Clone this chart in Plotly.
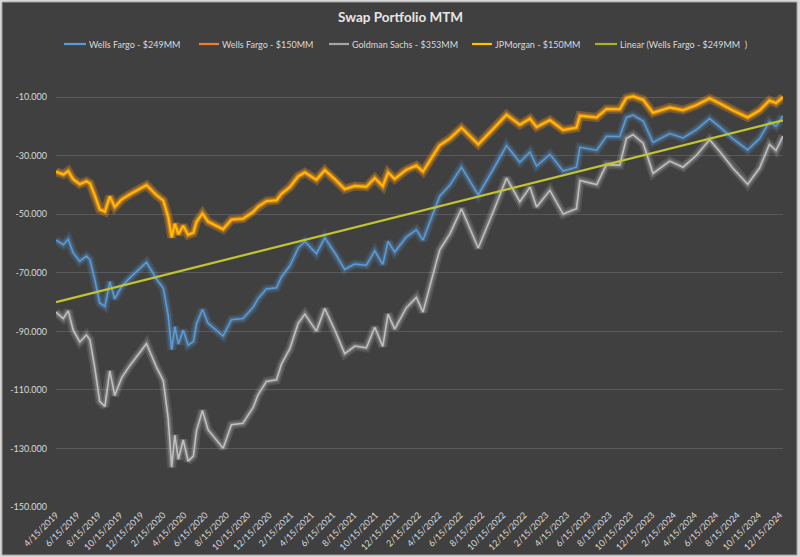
import numpy as np
import pandas as pd
import plotly.graph_objects as go

# ---------------- data (values in thousands) ----------------
dates = [
    "2019-04-15", "2019-05-06", "2019-05-20", "2019-06-03", "2019-06-22", "2019-07-11",
    "2019-07-21", "2019-08-04", "2019-08-18", "2019-09-02", "2019-09-16", "2019-09-30",
    "2019-10-20", "2019-11-12", "2019-12-30", "2020-01-28", "2020-02-16", "2020-03-01",
    "2020-03-11", "2020-03-20", "2020-03-30", "2020-04-13", "2020-04-27", "2020-05-12",
    "2020-05-21", "2020-06-07", "2020-06-23", "2020-08-05", "2020-08-29", "2020-10-01",
    "2020-10-30", "2020-11-13", "2020-12-07", "2021-01-05", "2021-01-19", "2021-02-12",
    "2021-03-08", "2021-03-27", "2021-04-29", "2021-05-23", "2021-06-21", "2021-07-19",
    "2021-08-17", "2021-09-19", "2021-10-13", "2021-11-05", "2021-11-20", "2021-12-09",
    "2022-01-11", "2022-02-09", "2022-02-28", "2022-03-24", "2022-04-08", "2022-04-17",
    "2022-05-16", "2022-06-18", "2022-08-05", "2022-09-17", "2022-10-25", "2022-12-02",
    "2022-12-31", "2023-01-19", "2023-02-26", "2023-04-05", "2023-05-13", "2023-05-23",
    "2023-07-10", "2023-08-07", "2023-09-14", "2023-10-03", "2023-10-22", "2023-11-20",
    "2023-12-18", "2024-02-04", "2024-03-13", "2024-04-20", "2024-05-28", "2024-06-26",
    "2024-08-02", "2024-09-14", "2024-10-18", "2024-11-15", "2024-12-04", "2024-12-24",
]

wells_fargo_249 = [
    -58.8, -60.4, -58.5, -63.1, -66.0, -64.3, -65.5, -72.3, -80.3, -81.5, -73.0, -78.9,
    -74.6, -71.7, -66.4, -72.2, -75.3, -84.5, -96.2, -88.4, -94.3, -89.6, -94.7, -93.5,
    -87.4, -82.5, -87.2, -91.6, -86.0, -85.6, -81.8, -78.8, -75.5, -75.1, -71.4, -67.6,
    -61.5, -59.3, -63.4, -58.0, -63.2, -68.8, -67.0, -67.4, -62.5, -67.1, -59.3, -62.9,
    -57.8, -55.3, -58.8, -50.8, -46.5, -43.8, -40.0, -33.9, -43.4, -34.6, -26.5, -32.2,
    -28.7, -33.5, -29.5, -35.2, -33.9, -27.1, -28.1, -23.3, -23.4, -16.9, -16.1, -18.1,
    -25.4, -22.4, -23.9, -21.1, -17.3, -20.1, -24.1, -28.0, -24.1, -18.4, -19.9, -16.4,
]

wells_fargo_150 = [
    -35.4, -36.4, -35.2, -38.0, -39.7, -38.7, -39.4, -43.5, -48.3, -49.1, -43.9, -47.5,
    -44.9, -43.2, -40.0, -43.5, -45.3, -50.9, -57.9, -53.2, -56.8, -53.9, -57.0, -56.3,
    -52.6, -49.7, -52.5, -55.1, -51.8, -51.5, -49.2, -47.4, -45.5, -45.2, -43.0, -40.7,
    -37.0, -35.7, -38.2, -34.9, -38.0, -41.4, -40.3, -40.6, -37.6, -40.4, -35.7, -37.9,
    -34.8, -33.3, -35.4, -30.6, -28.0, -26.4, -24.1, -20.4, -26.1, -20.8, -16.0, -19.4,
    -17.3, -20.2, -17.8, -21.2, -20.4, -16.3, -16.9, -14.0, -14.1, -10.2, -9.7, -10.9,
    -15.3, -13.5, -14.4, -12.7, -10.4, -12.1, -14.5, -16.9, -14.5, -11.1, -12.0, -9.9,
]

goldman_353 = [
    -83.4, -85.6, -83.0, -89.5, -93.6, -91.2, -92.9, -102.5, -113.9, -115.6, -103.5, -111.9,
    -105.8, -101.7, -94.2, -102.4, -106.8, -119.8, -136.4, -125.4, -133.7, -127.1, -134.3, -132.6,
    -123.9, -117.0, -123.6, -129.9, -121.9, -121.4, -116.0, -111.7, -107.1, -106.5, -101.2, -95.9,
    -87.2, -84.1, -89.9, -82.2, -89.6, -97.6, -95.0, -95.6, -88.6, -95.1, -84.1, -89.2,
    -82.0, -78.4, -83.4, -72.0, -65.9, -62.1, -56.7, -48.1, -61.5, -49.1, -37.6, -45.7,
    -40.7, -47.5, -41.8, -49.9, -48.1, -38.4, -39.8, -33.0, -33.2, -24.0, -22.8, -25.7,
    -36.0, -31.8, -33.9, -29.9, -24.5, -28.5, -34.2, -39.7, -34.2, -26.1, -28.2, -23.3,
]

jpmorgan_150 = [
    -35.4, -36.4, -35.2, -38.0, -39.7, -38.7, -39.4, -43.5, -48.3, -49.1, -43.9, -47.5,
    -44.9, -43.2, -40.0, -43.5, -45.3, -50.9, -57.9, -53.2, -56.8, -53.9, -57.0, -56.3,
    -52.6, -49.7, -52.5, -55.1, -51.8, -51.5, -49.2, -47.4, -45.5, -45.2, -43.0, -40.7,
    -37.0, -35.7, -38.2, -34.9, -38.0, -41.4, -40.3, -40.6, -37.6, -40.4, -35.7, -37.9,
    -34.8, -33.3, -35.4, -30.6, -28.0, -26.4, -24.1, -20.4, -26.1, -20.8, -16.0, -19.4,
    -17.3, -20.2, -17.8, -21.2, -20.4, -16.3, -16.9, -14.0, -14.1, -10.2, -9.7, -10.9,
    -15.3, -13.5, -14.4, -12.7, -10.4, -12.1, -14.5, -16.9, -14.5, -11.1, -12.0, -9.9,
]

# linear trendline of Wells Fargo $249MM, endpoints
trend_dates = ["2019-04-15", "2024-12-24"]
trend_values = [-80.0, -17.9]

series_names = ["Wells Fargo - $249MM", "Wells Fargo - $150MM",
                "Goldman Sachs - $353MM", "JPMorgan - $150MM"]
trend_name = "Linear (Wells Fargo - $249MM  )"

y_tick_values = [-150, -130, -110, -90, -70, -50, -30, -10]
y_tick_labels = ["-150.000", "-130.000", "-110.000", "-90.000",
                 "-70.000", "-50.000", "-30.000", "-10.000"]

x_tick_labels = [
    "4/15/2019", "6/15/2019", "8/15/2019", "10/15/2019", "12/15/2019",
    "2/15/2020", "4/15/2020", "6/15/2020", "8/15/2020", "10/15/2020", "12/15/2020",
    "2/15/2021", "4/15/2021", "6/15/2021", "8/15/2021", "10/15/2021", "12/15/2021",
    "2/15/2022", "4/15/2022", "6/15/2022", "8/15/2022", "10/15/2022", "12/15/2022",
    "2/15/2023", "4/15/2023", "6/15/2023", "8/15/2023", "10/15/2023", "12/15/2023",
    "2/15/2024", "4/15/2024", "6/15/2024", "8/15/2024", "10/15/2024", "12/15/2024",
]

# ---------------- styling ----------------
FONT = "Lato"
TXT = "#d9d9d9"
BG = "#404040"
GRID = "#5a5a5a"
C_BLUE = "#5b9bd5"
C_ORANGE = "#ed7d31"
C_GRAY = "#c0c0c0"
C_YELLOW = "#ffc000"
C_TREND = "#c3c52d"
C_TREND_LEG = "#a8b41e"

# plot area in pixels (figure 800x557)
W, H = 800, 557
L, R, T, B = 56, 17, 68, 50
PW, PH = W - L - R, H - T - B


def px_x(px):
    return (px - L) / PW


def px_y(py):
    return (H - B - py) / PH


x = pd.to_datetime(dates)

fig = go.Figure()


def add_series(vals, color, glow, width=1.6):
    fig.add_trace(go.Scatter(x=x, y=vals, mode="lines",
                             line=dict(color=glow, width=9),
                             opacity=0.16, hoverinfo="skip", showlegend=False))
    fig.add_trace(go.Scatter(x=x, y=vals, mode="lines",
                             line=dict(color=glow, width=5),
                             opacity=0.28, hoverinfo="skip", showlegend=False))
    fig.add_trace(go.Scatter(x=x, y=vals, mode="lines",
                             line=dict(color=color, width=width),
                             showlegend=False))


add_series(wells_fargo_249, C_BLUE, C_BLUE)
add_series(wells_fargo_150, C_ORANGE, C_ORANGE, width=2.6)
add_series(goldman_353, C_GRAY, "#bfbfbf")
add_series(jpmorgan_150, C_YELLOW, "#ffb000", width=1.5)

fig.add_trace(go.Scatter(x=pd.to_datetime(trend_dates), y=trend_values, mode="lines",
                         line=dict(color=C_TREND, width=2.2),
                         showlegend=False, name=trend_name))

# ---------------- frame ----------------
shapes = [
    dict(type="rect", xref="paper", yref="paper", layer="below",
         x0=px_x(2), x1=px_x(797), y0=px_y(555), y1=px_y(2),
         fillcolor=BG, line=dict(color="#a0a0a0", width=1)),
]

# ---------------- manual legend ----------------
legend_colors = [C_BLUE, C_ORANGE, "#a5a5a5", C_YELLOW, C_TREND_LEG]
legend_names = series_names + [trend_name]
legend_line_x = [(64, 86), (199, 219), (329, 349), (472, 492), (595, 617)]
legend_y = 44
annotations = []
for (x0, x1), col, nm in zip(legend_line_x, legend_colors, legend_names):
    shapes.append(dict(type="line", xref="paper", yref="paper",
                       x0=px_x(x0), x1=px_x(x1), y0=px_y(legend_y), y1=px_y(legend_y),
                       line=dict(color=col, width=2.2)))
    annotations.append(dict(text=nm, xref="paper", yref="paper",
                            x=px_x(x1 + 1), y=px_y(legend_y), xanchor="left",
                            yanchor="middle", showarrow=False,
                            font=dict(family=FONT, size=9, color=TXT)))

annotations.append(dict(text="<b>Swap Portfolio MTM</b>", xref="paper", yref="paper",
                        x=px_x(400), y=px_y(17), xanchor="center", yanchor="middle",
                        showarrow=False, font=dict(family=FONT, size=13.5, color="#e6e6e6")))

fig.update_layout(
    width=W, height=H,
    margin=dict(l=L, r=R, t=T, b=B, autoexpand=False),
    paper_bgcolor="#d9d9d9",
    plot_bgcolor=BG,
    shapes=shapes,
    annotations=annotations,
    showlegend=False,
    font=dict(family=FONT, color=TXT),
)

fig.update_xaxes(
    type="date",
    range=[x[0], x[-1]],
    tickvals=pd.to_datetime(x_tick_labels, format="%m/%d/%Y"),
    ticktext=x_tick_labels,
    tickangle=-45,
    tickfont=dict(family=FONT, size=9, color=TXT),
    showgrid=False, zeroline=False, showline=False, ticks="",
)

fig.update_yaxes(
    range=[-150, 0],
    tickvals=y_tick_values,
    ticktext=y_tick_labels,
    tickfont=dict(family=FONT, size=9, color=TXT),
    showgrid=True, gridcolor=GRID, gridwidth=1,
    zeroline=False, showline=False, ticks="",
    ticklabelstandoff=8,
)

fig.write_html(
    "out.html",
    config={"displayModeBar": False},
    post_script="document.body.style.margin='0';document.body.style.overflow='hidden';",
)
